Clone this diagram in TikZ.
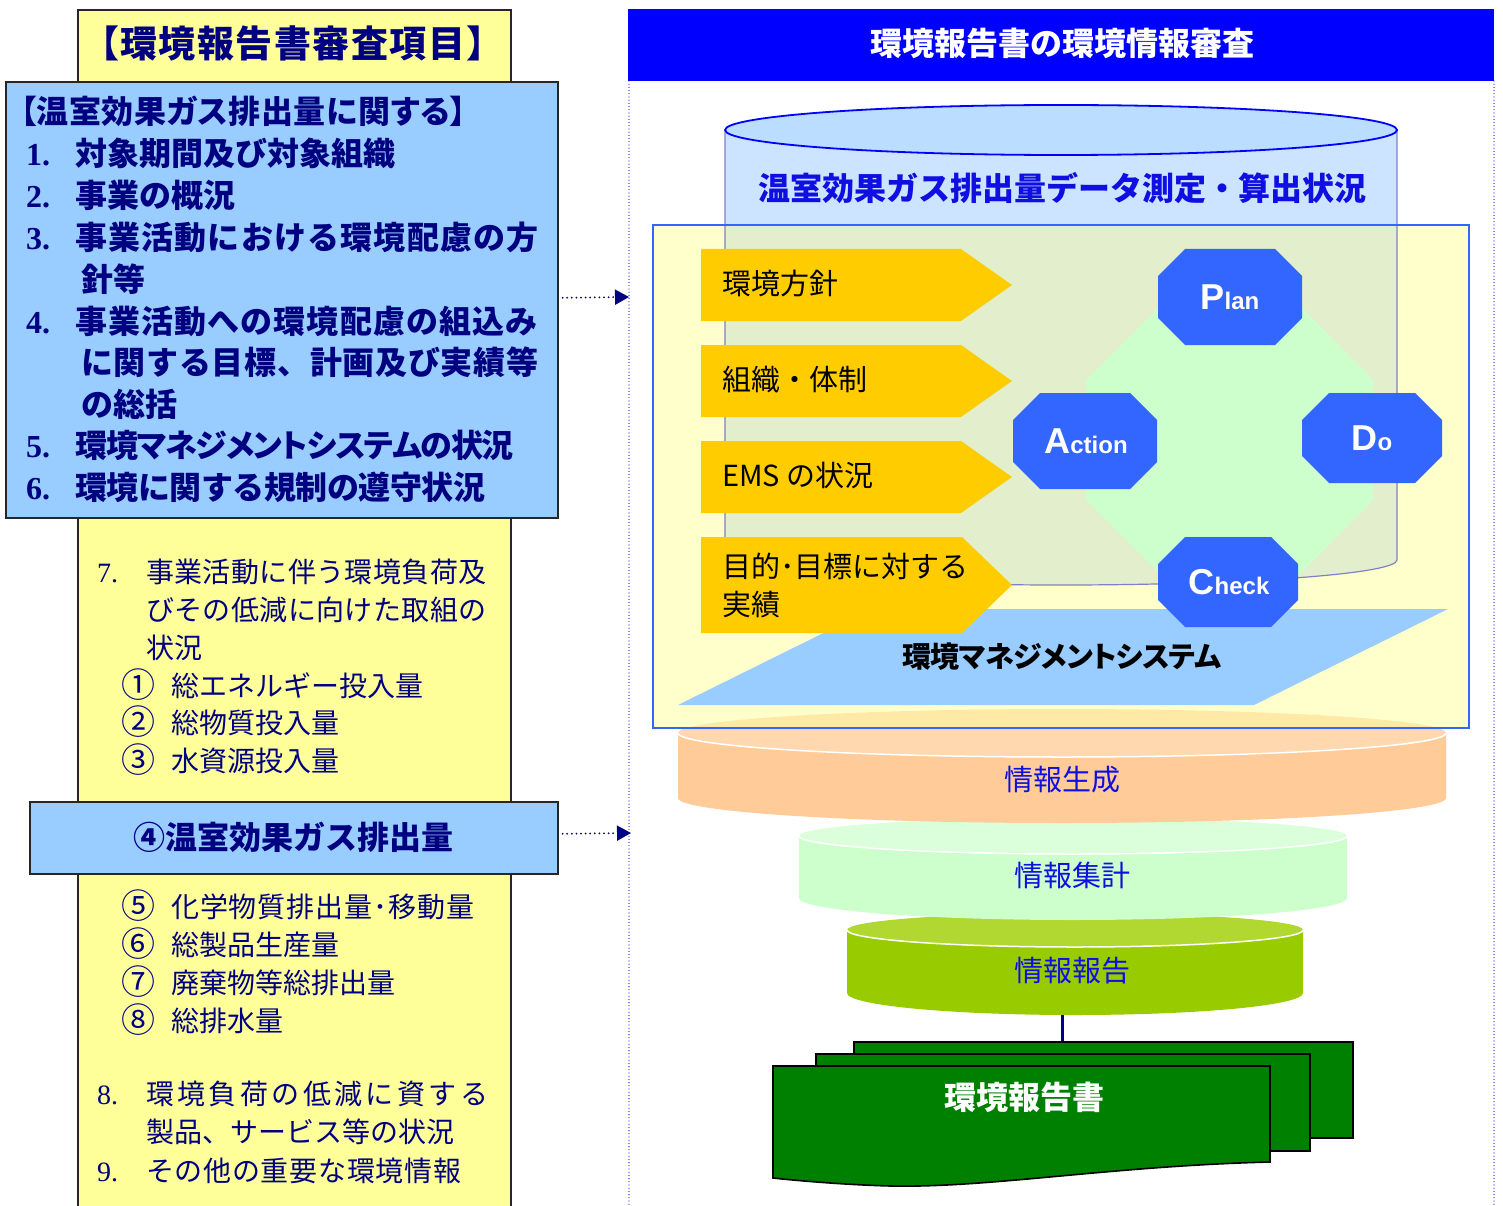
\documentclass[tikz,border=0pt]{standalone}
\usepackage{fontspec}
\usetikzlibrary{arrows.meta}
\newfontfamily\jp{Noto Sans CJK JP}[RawFeature=+palt]
\newfontfamily\jpm{Noto Sans CJK JP}
\newfontfamily\numf{Liberation Serif}
\newfontfamily\lsans{Liberation Sans}
\definecolor{navy}{RGB}{0,0,128}
\definecolor{ylw}{RGB}{255,255,153}
\definecolor{lblue}{RGB}{153,204,255}
\definecolor{hdrblue}{RGB}{0,0,255}
\definecolor{cylbody}{RGB}{204,228,255}
\definecolor{cyltop}{RGB}{187,221,255}
\definecolor{cyledge}{RGB}{128,128,200}
\definecolor{ovl}{RGB}{255,255,204}
\definecolor{ovlcyl}{RGB}{227,239,204}
\definecolor{ovledge}{RGB}{51,102,255}
\definecolor{arrowor}{RGB}{255,204,0}
\definecolor{pdca}{RGB}{51,102,255}
\definecolor{pdcabg}{RGB}{204,255,204}
\definecolor{orbody}{RGB}{255,204,153}
\definecolor{ortop}{RGB}{255,216,176}
\definecolor{ortopovl}{RGB}{255,233,166}
\definecolor{gnbody}{RGB}{204,255,204}
\definecolor{gntop}{RGB}{218,255,218}
\definecolor{olbody}{RGB}{153,204,0}
\definecolor{oltop}{RGB}{176,216,48}
\definecolor{docgreen}{RGB}{0,128,0}
\definecolor{cyltxt}{RGB}{15,15,225}
\definecolor{dotblue}{RGB}{40,40,220}
\makeatletter
\newcommand\spc[2]{{\def\spc@s{\hskip#1\relax}\spc@l#2\@nil}}
\def\spc@l#1{\ifx\@nil#1\else#1\spc@s\expandafter\spc@l\fi}
\makeatother
\newcommand\nb[1]{\makebox[49pt][l]{\numf #1}}
\newcommand\cb[1]{\makebox[50pt][l]{\raisebox{-1.5pt}{\fontsize{34}{34}\selectfont #1}}}
\newcommand\pdcalbl[2]{{\fontsize{36}{36}\selectfont #1}{\fontsize{24}{24}\selectfont #2}}
\newcommand\octa[5]{\fill[#5] ({#1-#3+27},{#2-#4}) -- ({#1+#3-27},{#2-#4}) -- ({#1+#3},{#2-#4+27}) -- ({#1+#3},{#2+#4-27}) -- ({#1+#3-27},{#2+#4}) -- ({#1-#3+27},{#2+#4}) -- ({#1-#3},{#2+#4-27}) -- ({#1-#3},{#2-#4+27}) -- cycle;}
\begin{document}
\begin{tikzpicture}[x=1pt,y=-1pt,
  box/.style={draw=black!85, line width=1.6pt, inner sep=0pt, anchor=north west},
  ltxt/.style={anchor=base west, inner sep=0pt, text=navy, font=\jpm\bfseries\fontsize{32}{32}\selectfont},
  ytxt/.style={anchor=base west, inner sep=0pt, text=navy, font=\jpm\fontsize{28}{28}\selectfont},
  atxt/.style={anchor=base west, inner sep=0pt, text=black, font=\jpm\fontsize{29}{29}\selectfont},
  dtxt/.style={anchor=base, inner sep=0pt, text=cyltxt, font=\jpm\fontsize{29}{29}\selectfont},
  pdcat/.style={inner sep=0pt, text=white, font=\lsans\bfseries},
  dotarr/.style={navy, line width=2pt, line cap=round, dash pattern=on 0pt off 4.6pt, -{Triangle[length=14pt,width=15pt,line cap=butt]}},
  pborder/.style={dotblue, line width=1.3pt, line cap=round, dash pattern=on 0pt off 3.2pt},
  docbox/.style={draw=black, line width=1.6pt, fill=docgreen, inner sep=0pt, anchor=north west},
  chev/.style={fill=arrowor}
]
\useasboundingbox (0,0) rectangle (1503,1206);
\fill[white] (0,0) rectangle (1503,1206);

% ---------- left column ----------
\node[box, fill=ylw, minimum width=433pt, minimum height=1220pt] (ycol) at (77,9) {};
\node[anchor=base, inner sep=0pt, text=navy, font=\jp\bfseries\fontsize{37}{37}\selectfont] (title) at (293,58) {\spc{1.5pt}{【環境報告書審査項目】}};

\node[box, fill=lblue, minimum width=552pt, minimum height=436pt] (ghg) at (5,81) {};
\node[ltxt, font=\jp\bfseries\fontsize{32}{32}\selectfont] (g0) at (20,124) {\spc{0.6pt}{【温室効果ガス排出量に関する】}};
\node[ltxt] (g1) at (26,166) {\nb{1.}対象期間及び対象組織};
\node[ltxt] (g2) at (26,208) {\nb{2.}事業の概況};
\node[ltxt] (g3) at (26,250) {\nb{3.}\spc{1.2pt}{事業活動における環境配慮の方}};
\node[ltxt] (g3b) at (81,291) {針等};
\node[ltxt] (g4) at (26,333) {\nb{4.}\spc{1.1pt}{事業活動への環境配慮の組込み}};
\node[ltxt] (g4b) at (81,374) {\spc{0.7pt}{に関する目標、計画及び実績等}};
\node[ltxt] (g4c) at (81,416) {の総括};
\node[ltxt] (g5) at (26,457) {\nb{5.}{\jp\spc{-1.2pt}{環境マネジメントシステムの状況}}};
\node[ltxt] (g6) at (26,499) {\nb{6.}\spc{-0.5pt}{環境に関する規制の遵守状況}};

\node[ytxt] (y7) at (97,582) {\nb{7.}\spc{0.4pt}{事業活動に伴う環境負荷及}};
\node[ytxt] (y7b) at (146,620) {\spc{0.4pt}{びその低減に向けた取組の}};
\node[ytxt] (y7c) at (146,658) {状況};
\node[ytxt] (c1) at (121,696) {\cb{①}総エネルギー投入量};
\node[ytxt] (c2) at (121,733) {\cb{②}総物質投入量};
\node[ytxt] (c3) at (121,771) {\cb{③}水資源投入量};

\node[box, fill=lblue, minimum width=528pt, minimum height=72pt] (box2) at (29,801) {};
\node[anchor=base, inner sep=0pt, text=navy, font=\jpm\bfseries\fontsize{32}{32}\selectfont] (box2t) at (293,849) {④温室効果ガス排出量};

\node[ytxt] (c5) at (121,917) {\cb{⑤}\spc{0.9pt}{化学物質排出量･移動量}};
\node[ytxt] (c6) at (121,955) {\cb{⑥}総製品生産量};
\node[ytxt] (c7) at (121,993) {\cb{⑦}廃棄物等総排出量};
\node[ytxt] (c8) at (121,1031) {\cb{⑧}総排水量};
\node[ytxt] (y8) at (97,1104) {\nb{8.}\spc{3.4pt}{環境負荷の低減に資する}};
\node[ytxt] (y8b) at (146,1142) {製品、サービス等の状況};
\node[ytxt] (y9) at (97,1181) {\nb{9.}\spc{0.7pt}{その他の重要な環境情報}};

% ---------- right panel ----------
\node[inner sep=0pt, fill=hdrblue, anchor=north west, minimum width=866pt, minimum height=72pt] (hdr) at (628,9) {};
\node[anchor=base, inner sep=0pt, text=white, font=\jpm\bfseries\fontsize{32}{32}\selectfont] (hdrt) at (1062,56) {環境報告書の環境情報審査};
\draw[pborder] (629,81) -- (629,1206);
\draw[pborder] (1494,81) -- (1494,1206);

% main cylinder
\fill[cylbody] (725,130) -- (725,560) arc[start angle=180,end angle=360,x radius=336pt,y radius=25pt] -- (1397,130) -- cycle;
\draw[cyledge, line width=1.2pt] (725,130) -- (725,560) arc[start angle=180,end angle=360,x radius=336pt,y radius=25pt] -- (1397,130);
\filldraw[fill=cyltop, draw=hdrblue, line width=1.8pt] (1061,130) ellipse[x radius=336pt, y radius=25pt];

% stacked disks (bottom first)
\fill[olbody] (847,930) -- (847,993) arc[start angle=180,end angle=360,x radius=228pt,y radius=22pt] -- (1303,930) -- cycle;
\fill[oltop] (1075,930) ellipse[x radius=228pt, y radius=17pt];
\draw[white, line width=1.5pt] (847,930) arc[start angle=180,end angle=360,x radius=228pt,y radius=17pt];

\fill[gnbody] (799,836) -- (799,898) arc[start angle=180,end angle=360,x radius=274pt,y radius=22pt] -- (1347,836) -- cycle;
\fill[gntop] (1073,836) ellipse[x radius=274pt, y radius=18pt];
\draw[white, line width=1.5pt] (799,836) arc[start angle=180,end angle=360,x radius=274pt,y radius=18pt];

\fill[orbody] (678,733) -- (678,798) arc[start angle=180,end angle=360,x radius=384pt,y radius=25pt] -- (1446,733) -- cycle;
\fill[ortop] (1062,733) ellipse[x radius=384pt, y radius=24pt];
\draw[white, line width=1.5pt] (678,733) arc[start angle=180,end angle=360,x radius=384pt,y radius=24pt];

% translucent-looking overlay
\fill[ovl] (653,225) rectangle (1469,728);
\begin{scope}
  \clip (653,225) rectangle (1469,728);
  \fill[ovlcyl] (725,130) -- (725,560) arc[start angle=180,end angle=360,x radius=336pt,y radius=25pt] -- (1397,130) -- cycle;
  \draw[cyledge, line width=1.2pt] (725,130) -- (725,560) arc[start angle=180,end angle=360,x radius=336pt,y radius=25pt] -- (1397,130);
  \fill[ortopovl] (1062,733) ellipse[x radius=384pt, y radius=24pt];
\end{scope}
\draw[ovledge, line width=1.5pt] (653,225) rectangle (1469,728);
\node[anchor=base, inner sep=0pt, text=cyltxt, font=\jpm\bfseries\fontsize{32}{32}\selectfont] (cylt) at (1062,201) {温室効果ガス排出量データ測定・算出状況};

% EMS plane
\fill[lblue] (678,705) -- (1254,705) -- (1448,609) -- (872,609) -- cycle;
\node[anchor=base, inner sep=0pt, text=black, font=\jp\bfseries\fontsize{29}{29}\selectfont] (ems) at (1062,667) {\spc{-0.6pt}{環境マネジメントシステム}};

% PDCA background
\fill[pdcabg] (1086,380) -- (1180,286) -- (1280,286) -- (1373,380) -- (1373,500) -- (1280,594) -- (1180,594) -- (1086,500) -- cycle;

% chevrons
\fill[chev] (701,249) -- (961,249) -- (1012,285) -- (961,321) -- (701,321) -- cycle;
\fill[chev] (701,345) -- (961,345) -- (1012,381) -- (961,417) -- (701,417) -- cycle;
\fill[chev] (701,441) -- (961,441) -- (1012,477) -- (961,513) -- (701,513) -- cycle;
\fill[chev] (701,537) -- (962,537) -- (1012,585) -- (962,633) -- (701,633) -- cycle;
\node[atxt] (a1) at (722,294) {環境方針};
\node[atxt] (a2) at (722,390) {組織・体制};
\node[atxt] (a3) at (722,486) {EMS の状況};
\node[atxt] (a4) at (722,577) {目的･目標に対する};
\node[atxt] (a4b) at (722,615) {実績};

% PDCA octagons
\octa{1230}{297}{72}{48}{pdca}
\octa{1085}{441}{72}{48}{pdca}
\octa{1372}{438}{70}{45}{pdca}
\octa{1228}{582}{70}{45}{pdca}
\node[pdcat] (plan) at (1230,297) {\pdcalbl{P}{lan}};
\node[pdcat] (act) at (1086,441) {\pdcalbl{A}{ction}};
\node[pdcat] (do) at (1372,438) {\pdcalbl{D}{o}};
\node[pdcat] (chk) at (1229,582) {\pdcalbl{C}{heck}};

% disk labels
\node[dtxt] (d1) at (1062,790) {情報生成};
\node[dtxt] (d2) at (1072,886) {情報集計};
\node[dtxt] (d3) at (1072,981) {情報報告};

% documents
\node[docbox, minimum width=499pt, minimum height=96pt] (doc3) at (853,1041) {};
\node[docbox, minimum width=494pt, minimum height=97pt] (doc2) at (815,1053) {};
\filldraw[fill=docgreen, draw=black, line width=1.6pt] (773,1066) -- (1270,1066) -- (1270,1162)
  .. controls (1110,1166) and (990,1188) .. (891,1186)
  .. controls (850,1185) and (800,1181) .. (773,1178) -- cycle;
\node[anchor=base, inner sep=0pt, text=white, font=\jpm\bfseries\fontsize{32}{32}\selectfont] (doct) at (1024,1109) {環境報告書};
\coordinate (olbot) at (1062,1015);
\draw[navy, line width=3pt] (olbot) -- (olbot |- doc3.north);

% connectors
\coordinate (t1) at (629,297);
\coordinate (t2) at (631,833);
\draw[dotarr] ([xshift=4pt,yshift=2pt]ghg.east) -- (t1);
\draw[dotarr] ([xshift=4pt,yshift=4pt]box2.east) -- (t2);
\end{tikzpicture}
\end{document}
